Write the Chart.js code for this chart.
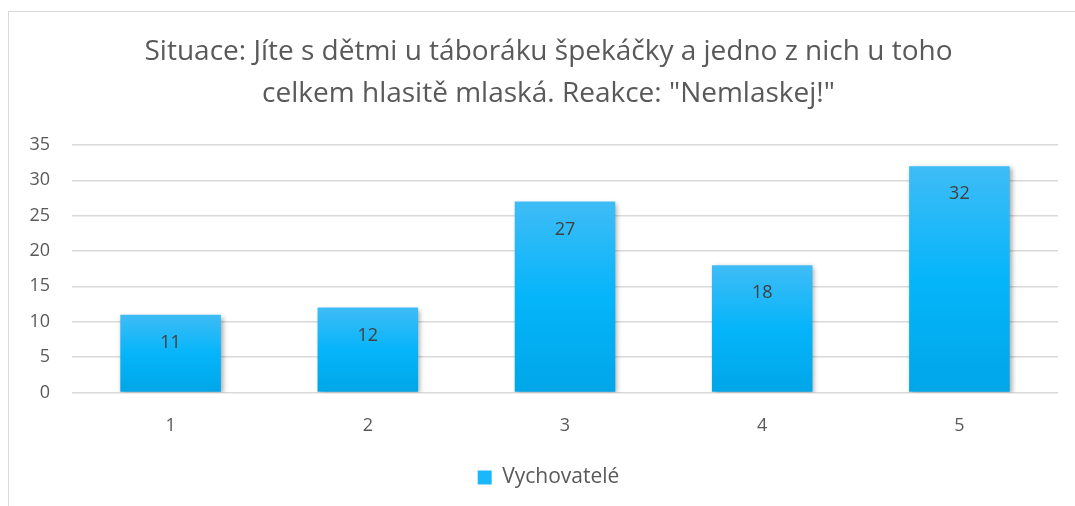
<!DOCTYPE html>
<html>
<head>
<meta charset="utf-8">
<script src="https://cdn.jsdelivr.net/npm/chart.js@4"></script>
<style>
  body { margin: 0; background: #fff; }
  #wrap { position: relative; width: 1075px; height: 506px; overflow: hidden; }
  #frame { position: absolute; left: 8px; top: 11px; width: 1200px; height: 700px; border: 1px solid #d9d9d9; }
  canvas { position: absolute; left: 0; top: 0; }
</style>
</head>
<body>
<div id="wrap">
  <div id="frame"></div>
  <canvas id="chart" width="1075" height="506"></canvas>
</div>
<script>
var categories = ['1', '2', '3', '4', '5'];
var seriesName = 'Vychovatelé';
var values = [11, 12, 27, 18, 32];
var titleLines = ['Situace: Jíte s dětmi u táboráku špekáčky a jedno z nich u toho', 'celkem hlasitě mlaská. Reakce: "Nemlaskej!"'];

var FONT = '"Open Sans", "Noto Sans", sans-serif';
var TEXT = '#595959';

// gradient per bar, from its top to the axis
function barFill(ctx) {
  var chart = ctx.chart;
  if (!chart.chartArea || !chart.scales.y || ctx.dataIndex === undefined) return '#00b0f0';
  var y = chart.scales.y;
  var top = y.getPixelForValue(ctx.raw);
  var bottom = y.getPixelForValue(0);
  var g = chart.ctx.createLinearGradient(0, top, 0, bottom);
  g.addColorStop(0, '#3fbcf6');
  g.addColorStop(0.5, '#05b5fa');
  g.addColorStop(1, '#00a6e8');
  return g;
}

var barShadow = {
  id: 'barShadow',
  beforeDatasetDraw: function (chart) {
    var c = chart.ctx;
    c.save();
    c.shadowColor = 'rgba(0,0,0,0.35)';
    c.shadowBlur = 5;
    c.shadowOffsetX = 2;
    c.shadowOffsetY = 2;
  },
  afterDatasetDraw: function (chart) {
    chart.ctx.restore();
  }
};

var barLabels = {
  id: 'barLabels',
  afterDatasetsDraw: function (chart) {
    var c = chart.ctx;
    var meta = chart.getDatasetMeta(0);
    c.save();
    c.font = '18px ' + FONT;
    c.fillStyle = '#404040';
    c.textAlign = 'center';
    c.textBaseline = 'middle';
    meta.data.forEach(function (bar, i) {
      c.fillText(String(values[i]), bar.x, bar.y + 28);
    });
    c.restore();
  }
};

// title and legend are centred on the frame (starts at x=39), not on the canvas
var centerOnFrame = {
  id: 'centerOnFrame',
  afterLayout: function (chart) {
    chart.titleBlock.left = 39;
    chart.legend.left = 39;
  }
};

const myChart = new Chart('chart', {
  type: 'bar',
  data: {
    labels: categories,
    datasets: [{
      label: seriesName,
      data: values,
      backgroundColor: barFill,
      borderWidth: 0,
      categoryPercentage: 1,
      barPercentage: 0.51
    }]
  },
  options: {
    responsive: false,
    animation: false,
    layout: { padding: { left: 0, right: 17, top: 0, bottom: 8 } },
    plugins: {
      title: {
        display: true,
        text: titleLines,
        color: TEXT,
        font: { family: FONT, size: 28, weight: 'normal', lineHeight: 1.5 },
        padding: { top: 31, bottom: 30 }
      },
      legend: {
        position: 'bottom',
        labels: {
          color: TEXT,
          font: { family: FONT, size: 21 },
          boxWidth: 14,
          boxHeight: 14,
          padding: 15,
          generateLabels: function () {
            return [{ text: seriesName, fillStyle: '#1ab8f8', strokeStyle: '#1ab8f8', lineWidth: 0, fontColor: TEXT }];
          }
        }
      },
      tooltip: { enabled: false }
    },
    scales: {
      x: {
        grid: { display: false },
        border: { display: false },
        ticks: { color: TEXT, font: { family: FONT, size: 18 }, padding: 15 }
      },
      y: {
        min: 0,
        max: 35,
        afterFit: function (axis) { axis.width = 72; },
        grid: { color: '#d9d9d9', lineWidth: 1.5, drawTicks: false },
        border: { display: false },
        ticks: { stepSize: 5, color: TEXT, font: { family: FONT, size: 18 }, padding: 22 }
      }
    }
  },
  plugins: [barShadow, barLabels, centerOnFrame]
});
</script>
</body>
</html>
